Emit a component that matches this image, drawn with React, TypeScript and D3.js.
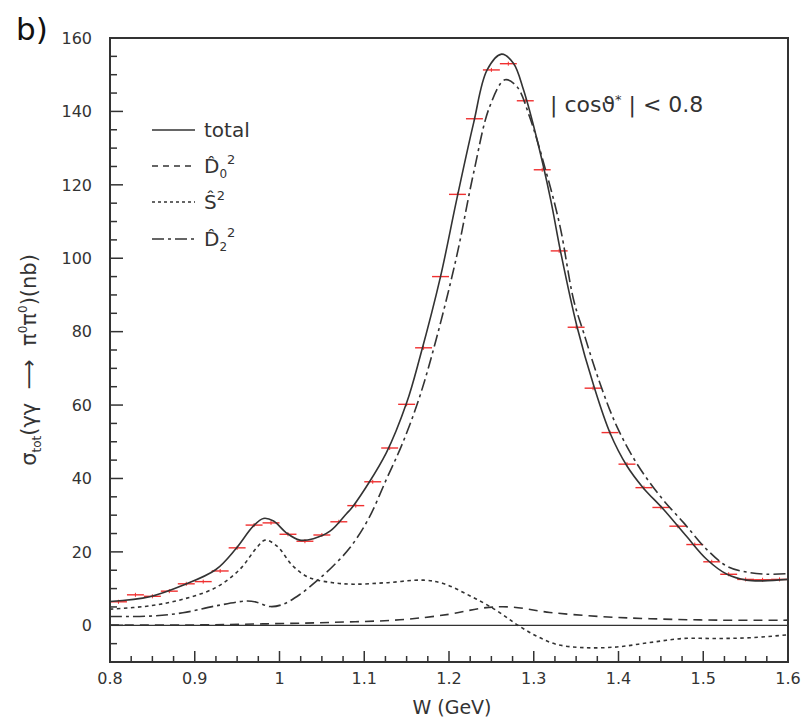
import React, { useEffect, useRef } from 'react';
import * as d3 from 'd3';

// measured points (bin centres, nb)
const dataW = [0.81, 0.83, 0.85, 0.87, 0.89, 0.91, 0.93, 0.95, 0.97, 0.99, 1.01, 1.03, 1.05, 1.07, 1.09, 1.11, 1.13, 1.15, 1.17, 1.19,
  1.21, 1.23, 1.25, 1.27, 1.29, 1.31, 1.33, 1.35, 1.37, 1.39, 1.41, 1.43, 1.45, 1.47, 1.49, 1.51, 1.53, 1.55, 1.57, 1.59];
const dataSigma = [6.4, 8.3, 7.9, 9.3, 11.3, 11.9, 14.8, 21.1, 27.3, 27.9, 24.8, 22.9, 24.6, 28.2, 32.6, 39.1, 48.3, 60.2, 75.6, 95.0,
  117.4, 138.0, 151.3, 153.0, 142.9, 124.1, 102.0, 81.2, 64.6, 52.5, 43.9, 37.5, 32.1, 27.0, 22.0, 17.3, 13.9, 12.5, 12.4, 12.5];

// fit curves
const totalW = [0.8, 0.847, 0.886, 0.925, 0.948, 0.969, 0.981, 0.993, 1.008, 1.024, 1.04, 1.06, 1.079, 1.087, 1.126, 1.15, 1.166,
  1.19, 1.209, 1.229, 1.245, 1.262, 1.276, 1.288, 1.304, 1.32, 1.332, 1.351, 1.371, 1.39, 1.41, 1.429, 1.453, 1.48, 1.504, 1.528,
  1.551, 1.571, 1.6];
const totalV = [6.5, 7.8, 10.9, 15.2, 20.7, 27.0, 29.1, 28.4, 25.2, 23.2, 23.6, 25.7, 30.4, 32.5, 47.0, 60.6, 73.3,
  95.0, 115.9, 136.8, 151.3, 155.6, 153.1, 145.8, 132.2, 115.9, 101.4, 81.4, 65.1, 52.4, 43.4, 37.5, 31.6, 24.3, 18.0, 13.9,
  12.3, 12.1, 12.5];

const d2W = [0.8, 0.847, 0.886, 0.925, 0.961, 0.973, 0.989, 1.004, 1.024, 1.044, 1.063, 1.083, 1.105, 1.126, 1.145, 1.165, 1.185,
  1.209, 1.229, 1.248, 1.266, 1.28, 1.295, 1.315, 1.331, 1.347, 1.359, 1.378, 1.398, 1.421, 1.449, 1.477, 1.504, 1.528, 1.551,
  1.575, 1.6];
const d2V = [2.4, 2.5, 3.4, 5.3, 6.6, 6.3, 5.1, 5.7, 8.4, 12.1, 16.1, 21.1, 29.0, 39.7, 49.5, 62.0, 78.0,
  100.5, 123.2, 141.3, 148.6, 146.8, 138.6, 123.2, 108.7, 88.7, 79.6, 66.0, 54.2, 44.3, 35.2, 27.9, 20.7, 16.1, 14.5,
  13.9, 14.1];

const sW = [0.8, 0.847, 0.886, 0.925, 0.953, 0.973, 0.983, 0.997, 1.016, 1.035, 1.063, 1.087, 1.126, 1.17, 1.193, 1.225, 1.255,
  1.28, 1.303, 1.327, 1.359, 1.398, 1.437, 1.476, 1.516, 1.555, 1.6];
const sV = [4.4, 5.3, 7.1, 10.3, 15.2, 21.1, 23.2, 21.6, 16.1, 13.0, 11.6, 11.2, 11.6, 12.3, 11.4, 8.0, 4.2,
  0.2, -2.9, -5.2, -6.1, -5.9, -4.7, -3.6, -3.6, -3.4, -2.6];

const d0W = [0.8, 0.9, 0.985, 1.064, 1.142, 1.2, 1.24, 1.272, 1.319, 1.378, 1.437, 1.516, 1.6];
const d0V = [0.1, 0.1, 0.4, 0.8, 1.5, 3.0, 4.7, 5.0, 3.5, 2.4, 1.8, 1.4, 1.4];

const xTicks = [0.8, 0.9, 1.0, 1.1, 1.2, 1.3, 1.4, 1.5, 1.6];
const yTicks = [0, 20, 40, 60, 80, 100, 120, 140, 160];

const FONT = '"DejaVu Sans", sans-serif';
const INK = '#333';

export default function App() {
  const ref = useRef<SVGGElement>(null);

  const x = d3.scaleLinear().domain([0.8, 1.6]).range([110, 788]);
  const y = d3.scaleLinear().domain([-10, 160]).range([662, 38]);

  useEffect(() => {
    const g = d3.select(ref.current);
    g.selectAll('*').remove();

    // ticks
    const xMinor = d3.range(0.8, 1.6001, 0.025);
    g.selectAll('line.xt')
      .data(xMinor)
      .enter()
      .append('line')
      .attr('x1', (d) => x(d))
      .attr('x2', (d) => x(d))
      .attr('y1', 662)
      .attr('y2', (d, i) => (i % 4 === 0 ? 651 : 656))
      .attr('stroke', INK)
      .attr('stroke-width', 1.5);
    const yMinor = d3.range(-10, 160.001, 5);
    g.selectAll('line.yt')
      .data(yMinor)
      .enter()
      .append('line')
      .attr('x1', 110)
      .attr('x2', (d) => (d % 20 === 0 ? 123 : 117))
      .attr('y1', (d) => y(d))
      .attr('y2', (d) => y(d))
      .attr('stroke', INK)
      .attr('stroke-width', 1.5);

    // zero line
    g.append('line')
      .attr('x1', x(0.8))
      .attr('x2', x(1.6))
      .attr('y1', y(0))
      .attr('y2', y(0))
      .attr('stroke', INK)
      .attr('stroke-width', 1.3);

    // data points
    const half = (x(0.82) - x(0.8)) / 2;
    g.selectAll('line.pt')
      .data(dataW)
      .enter()
      .append('line')
      .attr('x1', (d) => x(d) - half)
      .attr('x2', (d) => x(d) + half)
      .attr('y1', (d, i) => y(dataSigma[i]))
      .attr('y2', (d, i) => y(dataSigma[i]))
      .attr('stroke', '#f03030')
      .attr('stroke-width', 1.4);
    g.selectAll('line.pv')
      .data(dataW)
      .enter()
      .append('line')
      .attr('x1', (d) => x(d))
      .attr('x2', (d) => x(d))
      .attr('y1', (d, i) => y(dataSigma[i]) - 2)
      .attr('y2', (d, i) => y(dataSigma[i]) + 2)
      .attr('stroke', '#f03030')
      .attr('stroke-width', 1);

    // curves
    const line = d3
      .line<[number, number]>()
      .x((d) => x(d[0]))
      .y((d) => y(d[1]))
      .curve(d3.curveCatmullRom.alpha(0.5));
    const curves = [
      { w: d0W, v: d0V, dash: '9,6' },
      { w: sW, v: sV, dash: '3.5,3.5' },
      { w: d2W, v: d2V, dash: '12,4,3,4' },
      { w: totalW, v: totalV, dash: null },
    ];
    curves.forEach((c) => {
      g.append('path')
        .attr('d', line(c.w.map((w, i) => [w, c.v[i]] as [number, number])))
        .attr('fill', 'none')
        .attr('stroke', INK)
        .attr('stroke-width', 1.6)
        .attr('stroke-dasharray', c.dash);
    });

    // frame
    g.append('rect')
      .attr('x', 110)
      .attr('y', 38)
      .attr('width', 678)
      .attr('height', 624)
      .attr('fill', 'none')
      .attr('stroke', INK)
      .attr('stroke-width', 2);
  }, []);

  const legend = [
    { dash: null, label: 'total' },
    { dash: '6,5', label: 'D0' },
    { dash: '3,3', label: 'S' },
    { dash: '12,4,3,4', label: 'D2' },
  ];
  const legY = [130, 166, 202, 239];

  return (
    <svg width={809} height={719} style={{ position: 'absolute', left: 0, top: 0 }} fontFamily={FONT}>
      <rect width={809} height={719} fill="#fff" />
      <text x={16} y={40} fontSize={31} fill="#111">b)</text>
      <g ref={ref} />
      {yTicks.map((t) => (
        <text key={t} x={92} y={y(t)} dy="0.36em" textAnchor="end" fontSize={16} fill={INK}>
          {t}
        </text>
      ))}
      {xTicks.map((t) => (
        <text key={t} x={x(t)} y={684} textAnchor="middle" fontSize={16} fill={INK}>
          {d3.format('~g')(t)}
        </text>
      ))}
      <text x={452} y={714} textAnchor="middle" fontSize={19} fill={INK}>W (GeV)</text>
      <text transform="translate(36,360) rotate(-90)" textAnchor="middle" fontSize={21} fill={INK} xmlSpace="preserve">
        σ<tspan fontSize={12} dy={5}>tot</tspan>
        <tspan dy={-5}>(γγ  ⟶  π</tspan>
        <tspan fontSize={12} dy={-9}>0</tspan>
        <tspan dy={9}>π</tspan>
        <tspan fontSize={12} dy={-9}>0</tspan>
        <tspan dy={9}>)(nb)</tspan>
      </text>
      {legend.map((l, i) => (
        <g key={l.label}>
          <line x1={152} x2={195} y1={legY[i]} y2={legY[i]} stroke={INK} strokeWidth={1.6} strokeDasharray={l.dash ?? undefined} />
          {l.label === 'total' ? (
            <text x={204} y={legY[i]} dy="0.36em" fontSize={20} fill={INK}>total</text>
          ) : (
            <text x={204} y={legY[i]} dy="0.36em" fontSize={20} fill={INK}>
              {l.label[0] + '\u0302'}
              {l.label.length > 1 && <tspan fontSize={12} dy={5}>{l.label[1]}</tspan>}
              <tspan fontSize={13} dy={l.label.length > 1 ? -14 : -9}>2</tspan>
            </text>
          )}
        </g>
      ))}
      <text x={550} y={104} dy="0.36em" fontSize={22} fill={INK}>
        | cosϑ<tspan fontSize={13} dy={-8}>*</tspan>
        <tspan dy={8}> | &lt; 0.8</tspan>
      </text>
    </svg>
  );
}
